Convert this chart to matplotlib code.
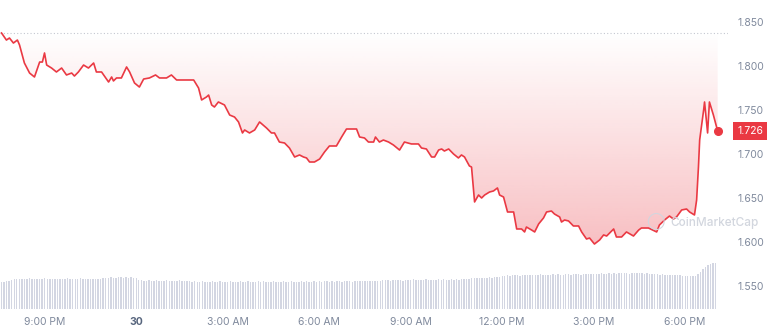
"""Price chart, last 24h, CoinMarketCap style."""

import numpy as np
import matplotlib.pyplot as plt
from matplotlib.colors import to_rgb

plt.rcParams['font.family'] = ['Inter', 'DejaVu Sans']

# hours after 9:00 PM (day 29) and price
hours = [-1.41, -1.25, -1.15, -1.02, -0.89, -0.82, -0.66, -0.49, -0.33, -0.16,
         -0.07, 0.00, 0.07, 0.23, 0.39, 0.56, 0.72, 0.89, 0.98, 1.11,
         1.28, 1.44, 1.61, 1.70, 1.87, 2.10, 2.20, 2.26, 2.36, 2.52,
         2.69, 2.79, 2.95, 3.11, 3.25, 3.44, 3.64, 3.77, 4.00, 4.16,
         4.33, 4.72, 4.89, 5.05, 5.15, 5.31, 5.38, 5.48, 5.57, 5.70,
         5.90, 6.07, 6.23, 6.36, 6.49, 6.56, 6.72, 6.89, 7.05, 7.28,
         7.44, 7.54, 7.70, 7.87, 8.03, 8.20, 8.36, 8.49, 8.59, 8.69,
         8.85, 9.02, 9.18, 9.34, 9.57, 9.74, 9.90, 10.23, 10.33, 10.49,
         10.62, 10.79, 10.85, 10.98, 11.11, 11.28, 11.44, 11.64, 11.80, 12.03,
         12.26, 12.36, 12.52, 12.69, 12.79, 12.92, 13.02, 13.11, 13.25, 13.41,
         13.57, 13.67, 13.77, 13.93, 14.00, 14.10, 14.23, 14.33, 14.43, 14.59,
         14.72, 14.85, 14.92, 15.05, 15.18, 15.38, 15.48, 15.64, 15.74, 15.80,
         15.97, 16.07, 16.20, 16.36, 16.46, 16.62, 16.72, 16.89, 16.95, 17.05,
         17.18, 17.34, 17.51, 17.61, 17.77, 17.87, 18.03, 18.20, 18.33, 18.43,
         18.66, 18.75, 18.92, 19.08, 19.31, 19.48, 19.57, 19.80, 20.07, 20.16,
         20.33, 20.49, 20.62, 20.72, 20.89, 21.05, 21.15, 21.31, 21.38, 21.44,
         21.48, 21.61, 21.64, 21.74, 21.80, 21.93, 22.07]
price = [1.8375, 1.8295, 1.8318, 1.8261, 1.8295, 1.8239, 1.8034, 1.7920, 1.7875, 1.8045,
         1.8045, 1.8148, 1.8011, 1.7977, 1.7932, 1.7977, 1.7898, 1.7920, 1.7886, 1.7932,
         1.8011, 1.7977, 1.8034, 1.7932, 1.7932, 1.7818, 1.7875, 1.7830, 1.7864, 1.7864,
         1.7989, 1.7932, 1.7807, 1.7761, 1.7852, 1.7864, 1.7898, 1.7864, 1.7864, 1.7898,
         1.7841, 1.7841, 1.7841, 1.7750, 1.7614, 1.7648, 1.7670, 1.7557, 1.7534, 1.7591,
         1.7557, 1.7443, 1.7420, 1.7364, 1.7239, 1.7273, 1.7239, 1.7273, 1.7364, 1.7295,
         1.7239, 1.7239, 1.7136, 1.7125, 1.7068, 1.6966, 1.6989, 1.6966, 1.6955, 1.6909,
         1.6909, 1.6943, 1.7023, 1.7091, 1.7091, 1.7193, 1.7284, 1.7284, 1.7193, 1.7182,
         1.7136, 1.7136, 1.7193, 1.7136, 1.7159, 1.7136, 1.7102, 1.7045, 1.7136, 1.7114,
         1.7114, 1.7068, 1.7057, 1.6966, 1.6966, 1.7045, 1.7057, 1.7034, 1.7057, 1.7000,
         1.6955, 1.6989, 1.6966, 1.6864, 1.6852, 1.6455, 1.6534, 1.6500, 1.6534, 1.6568,
         1.6580, 1.6614, 1.6534, 1.6511, 1.6341, 1.6341, 1.6148, 1.6148, 1.6114, 1.6170,
         1.6136, 1.6114, 1.6205, 1.6273, 1.6341, 1.6352, 1.6318, 1.6284, 1.6227, 1.6250,
         1.6239, 1.6182, 1.6182, 1.6114, 1.6034, 1.6045, 1.5977, 1.6023, 1.6080, 1.6068,
         1.6148, 1.6057, 1.6057, 1.6114, 1.6068, 1.6136, 1.6159, 1.6159, 1.6114, 1.6193,
         1.6250, 1.6295, 1.6261, 1.6284, 1.6364, 1.6375, 1.6341, 1.6307, 1.6477, 1.6852,
         1.7159, 1.7500, 1.7591, 1.7239, 1.7591, 1.7443, 1.7260]

# 5-minute volume bars (arbitrary units), first bar at the first price time
volume = [27, 27, 28, 28, 29, 30, 30, 30, 30, 30, 30, 31, 30, 30, 30, 30, 30, 31, 30, 30, 30, 30, 30, 30,
          30, 30, 31, 30, 30, 30, 30, 31, 30, 30, 30, 30, 30, 30, 30, 30, 31, 31, 31, 32, 31, 31, 32, 32,
          31, 32, 31, 32, 31, 31, 29, 29, 28, 28, 29, 28, 28, 29, 28, 28, 28, 29, 28, 28, 28, 28, 29, 28,
          28, 28, 28, 27, 28, 27, 27, 28, 27, 27, 27, 28, 27, 27, 28, 27, 27, 27, 28, 27, 27, 27, 28, 27,
          27, 28, 27, 27, 27, 28, 27, 28, 27, 27, 27, 28, 27, 27, 27, 28, 27, 27, 28, 27, 27, 27, 28, 27,
          28, 27, 27, 28, 27, 28, 27, 28, 28, 27, 28, 27, 28, 28, 27, 28, 28, 28, 27, 28, 28, 28, 28, 28,
          28, 28, 28, 28, 28, 28, 29, 29, 29, 28, 29, 29, 29, 29, 28, 29, 29, 29, 30, 29, 29, 29, 29, 30,
          29, 29, 29, 29, 30, 29, 30, 29, 29, 30, 29, 30, 29, 30, 30, 30, 30, 31, 31, 31, 31, 31, 31, 31,
          32, 31, 32, 32, 32, 33, 33, 34, 33, 34, 34, 34, 33, 34, 34, 34, 34, 34, 34, 34, 35, 34, 34, 34,
          34, 35, 34, 35, 34, 34, 35, 35, 34, 35, 35, 35, 34, 35, 35, 35, 35, 35, 35, 35, 36, 35, 35, 36,
          35, 36, 35, 36, 36, 36, 36, 35, 36, 36, 36, 36, 36, 35, 36, 35, 35, 35, 35, 34, 35, 34, 34, 34,
          34, 34, 34, 34, 33, 33, 33, 33, 33, 33, 35, 37, 40, 42, 44, 45, 46, 46]

open_price = 1.8375
tick_hours = [0, 3, 6, 9, 12, 15, 18, 21]
tick_labels = ["9:00 PM", "30", "3:00 AM", "6:00 AM", "9:00 AM", "12:00 PM", "3:00 PM", "6:00 PM"]
price_ticks = [1.55, 1.60, 1.65, 1.70, 1.75, 1.80, 1.85]

red = "#ea3943"
grey = "#808a9d"

fig = plt.figure(figsize=(7.68, 3.31), dpi=100)
rect = [0, 22 / 331, 728 / 768, 309 / 331]
xlim = (hours[0] - 0.05, hours[0] - 0.05 + 728 / 30.5)

# volume underneath
axv = fig.add_axes(rect)
vol_t = hours[0] + np.arange(len(volume)) / 12
axv.bar(vol_t, volume, width=0.55 / 12, color="#d3d6e2", linewidth=0)
axv.set_xlim(xlim)
axv.set_ylim(0, 309)
axv.axis("off")

ax = fig.add_axes(rect, facecolor="none")
ax.set_xlim(xlim)
ax.set_ylim(1.52386, 1.875)

# gradient fill between the open line and the price
poly = ax.fill_between(hours, price, open_price, facecolor="none", edgecolor="none")
lo = min(price)
grad = np.zeros((256, 1, 4))
grad[:, 0, :3] = to_rgb(red)
grad[:, 0, 3] = np.linspace(0.32, 0.0, 256)
img = ax.imshow(grad, extent=[hours[0], hours[-1], lo, open_price], origin="lower",
                aspect="auto", interpolation="bilinear", zorder=1)
img.set_clip_path(poly.get_paths()[0], transform=ax.transData)

ax.axhline(open_price, color="#c3c7d0", lw=0.8, ls=(0, (1, 2)), zorder=1)
ax.plot(hours, price, color=red, lw=1.2, zorder=3, solid_joinstyle="round")
ax.plot(hours[-1], price[-1], "o", color=red, ms=5.5, zorder=4)

for s in ax.spines.values():
    s.set_visible(False)
ax.yaxis.tick_right()
ax.set_yticks(price_ticks)
ax.set_yticklabels([f"{p:.3f}" for p in price_ticks])
ax.tick_params(axis="y", length=0, pad=6.5, labelsize=7.5, labelcolor=grey)
ax.set_xticks(tick_hours)
ax.set_xticklabels(tick_labels)
ax.tick_params(axis="x", length=0, pad=5.5, labelsize=7.5, labelcolor=grey)
for lab in ax.get_xticklabels():
    if lab.get_text() == "30":
        lab.set_fontweight("bold")
        lab.set_color("#58667e")

ax.annotate(f"{price[-1]:.3f}", xy=(1, price[-1]), xycoords=("axes fraction", "data"),
            xytext=(6.5, 0), textcoords="offset points", ha="left", va="center",
            fontsize=7.5, color="white",
            bbox=dict(boxstyle="square,pad=0.4", fc=red, ec="none"))

# watermark
fig.text(655 / 768, 1 - 221 / 331, "\u25ef", fontsize=12, color="#d2d6de",
         ha="center", va="center", family="DejaVu Sans")
fig.text(670 / 768, 1 - 223 / 331, "CoinMarketCap", fontsize=8.5, color="#d2d6de",
         ha="left", va="center", fontweight="medium")

fig.savefig("out.png", dpi=100)
